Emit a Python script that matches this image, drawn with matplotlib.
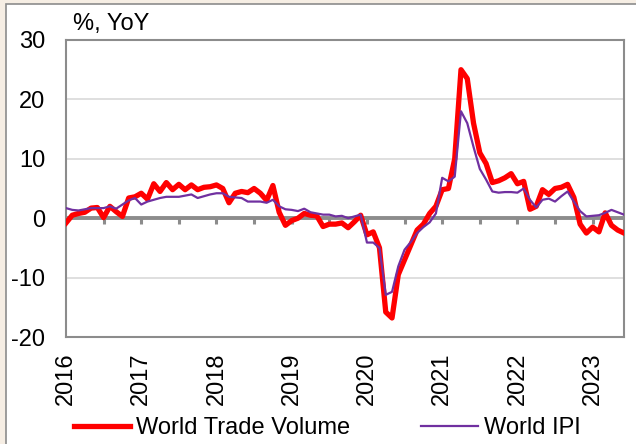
import matplotlib
matplotlib.use("Agg")
import matplotlib.pyplot as plt
from matplotlib.patches import Rectangle

plt.rcParams["font.family"] = ["Liberation Sans", "DejaVu Sans"]
plt.rcParams["axes.unicode_minus"] = False

# monthly YoY %, Jan 2016 .. Jun 2023
years = ["2016", "2017", "2018", "2019", "2020", "2021", "2022", "2023"]
trade_volume = [
    -0.8, 0.5, 0.8, 1.0, 1.7, 1.8, 0.1, 2.0, 1.1, 0.3, 3.4, 3.6,
    4.2, 3.2, 5.8, 4.5, 6.0, 4.8, 5.7, 4.8, 5.6, 4.8, 5.2, 5.3,
    5.6, 5.0, 2.6, 4.2, 4.5, 4.3, 5.0, 4.2, 3.0, 5.5, 1.0, -1.2,
    -0.4, 0.0, 0.8, 0.5, 0.4, -1.4, -1.0, -1.0, -0.8, -1.6, -0.6, 0.5,
    -2.8, -2.3, -5.0, -15.8, -16.8, -9.5, -7.0, -4.5, -2.0, -1.0, 0.8, 2.0,
    4.8, 5.0, 10.0, 25.0, 23.5, 16.0, 11.0, 9.2, 6.0, 6.3, 6.8, 7.5,
    5.8, 6.2, 1.5, 2.0, 4.8, 4.0, 5.0, 5.2, 5.7, 3.5, -1.0, -2.5,
    -1.5, -2.3, 0.9, -1.2, -2.0, -2.5,
]
world_ipi = [
    1.7, 1.4, 1.3, 1.5, 1.7, 1.7, 1.7, 2.0, 1.6, 2.3, 3.0, 3.4,
    2.3, 2.8, 3.1, 3.4, 3.6, 3.6, 3.6, 3.8, 4.0, 3.4, 3.7, 4.0,
    4.2, 4.2, 3.6, 3.5, 3.4, 2.8, 2.8, 2.8, 2.6, 3.1, 2.0, 1.5,
    1.4, 1.2, 1.6, 1.0, 0.8, 0.6, 0.6, 0.3, 0.4, 0.0, 0.3, 0.6,
    -4.1, -4.1, -5.0, -12.9, -12.4, -8.1, -5.3, -4.0, -2.5, -1.5, -0.7, 0.8,
    6.8, 6.2, 7.0, 18.0, 16.0, 12.0, 8.3, 6.5, 4.5, 4.3, 4.4, 4.4,
    4.3, 5.0, 3.1, 1.8, 3.1, 3.3, 2.8, 3.7, 4.5, 2.8, 1.2, 0.3,
    0.4, 0.5, 0.9, 1.4, 1.0, 0.6,
]

months = list(range(len(trade_volume)))

fig = plt.figure(figsize=(6.36, 4.44), dpi=100, facecolor="#F6EEE4")
fig.patches.append(
    Rectangle((6 / 636, -0.1), 1.1, 1 - 4 / 444 + 0.1, transform=fig.transFigure,
              facecolor="white", edgecolor="#8C8C8C", lw=1.2, zorder=-5)
)

ax = fig.add_axes([66 / 636, 1 - 337 / 444, 558 / 636, 297 / 444])
ax.set_facecolor("white")

for y in (-10, 10, 20):
    ax.axhline(y, color="#D9D9D9", lw=1.2, zorder=1)
ax.axhline(0, color="#8C8C8C", lw=2.8, zorder=2)
ax.vlines(range(6, len(months), 6), -1.0, 0, color="#8C8C8C", lw=2.2, zorder=2)

ax.plot(months, trade_volume, color="#FF0000", lw=3.8, solid_joinstyle="round",
        label="World Trade Volume", zorder=3)
ax.plot(months, world_ipi, color="#7030A0", lw=1.6, label="World IPI", zorder=4)

ax.set_xlim(0, len(months) - 1)
ax.set_ylim(-20, 30)
ax.set_yticks(range(-20, 31, 10))
ax.set_xticks(range(0, len(months), 12))
ax.set_xticklabels(years, rotation=90)
ax.tick_params(axis="both", length=0, labelsize=17, colors="black")
ax.tick_params(axis="y", pad=15)
ax.tick_params(axis="x", pad=11)
for spine in ax.spines.values():
    spine.set_color("#8C8C8C")
    spine.set_linewidth(1.5)

fig.text(73 / 636, 1 - 24 / 444, "%, YoY", fontsize=17, va="center", ha="left")

fig.legend(loc="center", bbox_to_anchor=(327 / 636, 1 - 428 / 444), ncol=2,
           frameon=False, fontsize=17, handlelength=2.4, handletextpad=0.25,
           columnspacing=3.0, borderpad=0)

fig.savefig("out.png", dpi=100, facecolor=fig.get_facecolor())
